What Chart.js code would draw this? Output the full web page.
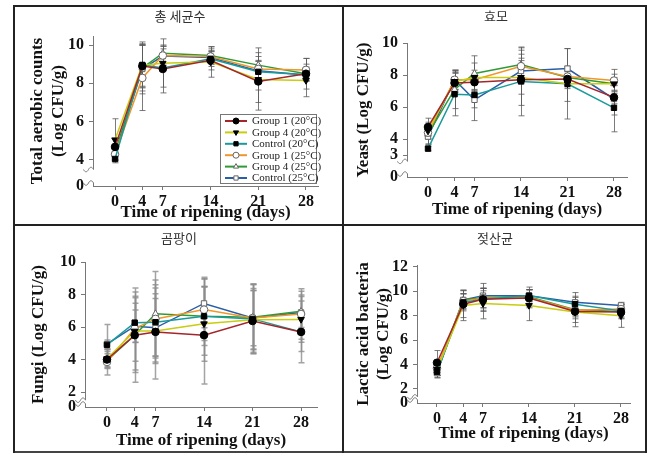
<!DOCTYPE html>
<html><head><meta charset="utf-8">
<script src="https://cdn.jsdelivr.net/npm/chart.js@4.4.1/dist/chart.umd.min.js"></script>
<style>
html,body{margin:0;padding:0;background:#fff;}
#wrap{position:relative;width:663px;height:454px;overflow:hidden;background:#fff;}
.ln{position:absolute;background:#222;}
canvas{position:absolute;}
.kt{position:absolute;font-family:"Noto Sans CJK KR";font-size:13px;color:#333;transform:translate(-50%,-50%);white-space:nowrap;}
</style></head><body>
<div id="wrap">
 <div class="ln" style="left:13px;top:5px;width:634px;height:2px"></div>
 <div class="ln" style="left:13px;top:451px;width:634px;height:2px;background:#444"></div>
 <div class="ln" style="left:13px;top:5px;width:2px;height:448px"></div>
 <div class="ln" style="left:645px;top:5px;width:2px;height:448px"></div>
 <div class="ln" style="left:342px;top:5px;width:2px;height:448px"></div>
 <div class="ln" style="left:13px;top:224px;width:634px;height:2px"></div>
 <canvas id="c1" width="327" height="217" style="left:15px;top:7px;width:327px;height:217px"></canvas>
 <canvas id="c2" width="301" height="217" style="left:344px;top:7px;width:301px;height:217px"></canvas>
 <canvas id="c3" width="327" height="225" style="left:15px;top:226px;width:327px;height:225px"></canvas>
 <canvas id="c4" width="301" height="225" style="left:344px;top:226px;width:301px;height:225px"></canvas>
 <div class="kt" id="t1" style="left:180px;top:15px"></div>
 <div class="kt" id="t2" style="left:496px;top:15px"></div>
 <div class="kt" id="t3" style="left:179px;top:237px"></div>
 <div class="kt" id="t4" style="left:495px;top:237px"></div>
</div>
<script>
// ---------- data ----------
const days = [0, 4, 7, 14, 21, 28];
const seriesNames = ['Group 1 (20°C)','Group 4 (20°C)','Control (20°C)','Group 1 (25°C)','Group 4 (25°C)','Control (25°C)'];
const panelTitles = ['총 세균수','효모','곰팡이','젖산균'];
const xTitle = 'Time of ripening (days)';
const yTitles = [['Total aerobic counts','(Log CFU/g)'], 'Yeast (Log CFU/g)', 'Fungi (Log CFU/g)', ['Lactic acid bacteria','(Log CFU/g)']];
const aerobicTicks = [0, 4, 6, 8, 10];
const yeastTicks = [0, 3, 4, 6, 8, 10];
const fungiTicks = [0, 2, 4, 6, 8, 10];
const labTicks = [0, 2, 4, 6, 8, 10, 12];

// rows: G1 20, G4 20, C 20, G1 25, G4 25, C 25
const aerobicMean = [
  [4.68, 8.90, 8.75, 9.20, 8.10, 8.50],
  [5.05, 8.95, 9.05, 9.12, 8.20, 8.15],
  [4.05, 8.96, 8.80, 9.28, 8.60, 8.45],
  [4.30, 8.28, 9.45, 9.40, 8.75, 8.70],
  [4.40, 8.80, 9.57, 9.45, 8.95, 8.50],
  [4.30, 8.75, 9.42, 9.35, 8.65, 8.43]
];
const aerobicSD = [
  [0.40, 1.10, 1.25, 0.50, 1.50, 0.80],
  [1.10, 1.10, 0.35, 0.80, 1.20, 0.85],
  [0.20, 1.20, 1.00, 0.40, 0.60, 0.20],
  [0.30, 1.70, 0.50, 0.40, 1.10, 0.60],
  [0.30, 1.20, 0.75, 0.45, 0.20, 0.35],
  [0.30, 1.30, 0.50, 0.30, 0.50, 0.30]
];
const yeastMean = [
  [4.75, 7.50, 7.55, 7.70, 7.75, 6.60],
  [4.50, 7.60, 7.85, 7.85, 7.45, 7.45],
  [3.40, 6.80, 6.75, 7.60, 7.45, 5.95],
  [4.40, 7.70, 7.70, 8.55, 7.90, 7.65],
  [4.30, 7.10, 8.10, 8.65, 7.85, 7.45],
  [4.15, 7.70, 6.45, 8.25, 8.40, 6.50]
];
const yeastSD = [
  [0.30, 0.60, 0.50, 1.60, 0.50, 0.40],
  [0.80, 0.60, 0.90, 1.05, 1.10, 0.40],
  [0.15, 1.35, 0.80, 2.15, 2.20, 1.50],
  [0.40, 0.60, 0.60, 1.00, 0.30, 0.70],
  [0.30, 1.20, 1.10, 1.05, 0.40, 0.60],
  [0.50, 0.60, 1.30, 0.80, 1.25, 1.00]
];
const fungiMean = [
  [4.00, 5.50, 5.70, 5.50, 6.37, 5.70],
  [4.05, 5.75, 5.75, 6.20, 6.45, 6.47],
  [4.90, 6.27, 6.30, 6.66, 6.50, 5.70],
  [3.85, 5.90, 6.50, 7.07, 6.55, 6.80],
  [3.95, 5.50, 6.82, 6.66, 6.60, 6.97],
  [4.95, 6.05, 5.95, 7.45, 6.55, 6.90]
];
const fungiSD = [
  [0.50, 2.90, 2.90, 3.00, 2.00, 1.90],
  [0.60, 2.40, 2.00, 2.30, 1.80, 1.40],
  [0.30, 1.20, 2.10, 1.80, 2.15, 1.20],
  [0.80, 2.00, 2.40, 1.90, 1.70, 1.55],
  [0.40, 2.30, 2.60, 2.40, 2.00, 1.00],
  [1.20, 1.00, 2.10, 1.50, 2.10, 1.30]
];
const labMean = [
  [4.15, 8.95, 9.35, 9.45, 8.35, 8.30],
  [3.60, 8.85, 9.00, 8.85, 8.30, 8.00],
  [3.40, 9.10, 9.35, 9.65, 8.95, 8.40],
  [3.70, 9.20, 9.45, 9.50, 8.45, 8.55],
  [3.50, 9.30, 9.50, 9.55, 8.50, 8.35],
  [3.30, 9.30, 9.65, 9.65, 9.10, 8.85]
];
const labSD = [
  [1.00, 1.10, 0.90, 0.70, 0.90, 0.50],
  [0.50, 1.25, 1.25, 1.25, 1.20, 0.95],
  [0.50, 0.70, 0.70, 0.50, 0.95, 0.50],
  [0.60, 0.60, 0.80, 0.85, 0.70, 0.40],
  [0.40, 0.50, 1.15, 0.60, 0.60, 0.60],
  [0.35, 0.80, 0.60, 0.50, 0.50, 0.25]
];

// ---------- styles ----------
const lineColors = ['#a3262b','#c9cc10','#1a9a9a','#f0962a','#2f9a35','#2a5ea6'];
const pointStyles = ['circle','triangle','rect','circle','triangle','rect'];
const pointRot = [0,180,0,0,0,0];
const filled = [true,true,true,false,false,false];
const serif = '"Liberation Serif", "Times New Roman", serif';
const axisColor = '#777';

Chart.defaults.color = '#111';

function makeErrorBars(sd, color, width){
  return {id:'errbars', beforeDatasetsDraw(chart){
    const {ctx, scales:{x, y}} = chart;
    ctx.save();
    ctx.strokeStyle = color; ctx.lineWidth = width;
    chart.data.datasets.forEach((ds, i) => {
      ds.data.forEach((p, j) => {
        const s = sd[i][j];
        const px = Math.round(x.getPixelForValue(p.x)) + 0.5;
        const t = y.getPixelForValue(p.y + s), b = y.getPixelForValue(p.y - s);
        ctx.beginPath();
        ctx.moveTo(px, t); ctx.lineTo(px, b);
        ctx.moveTo(px - 3, t); ctx.lineTo(px + 3, t);
        ctx.moveTo(px - 3, b); ctx.lineTo(px + 3, b);
        ctx.stroke();
      });
    });
    ctx.restore();
  }};
}
function tilde(ctx, x, y){
  ctx.moveTo(x, y);
  ctx.bezierCurveTo(x - 1.5, y - 3, x - 3.5, y - 3, x - 5, y);
  ctx.bezierCurveTo(x - 6.5, y + 3, x - 8.5, y + 3, x - 10, y);
}
function makeAxisBreak(breakAt){
  return {id:'axisbreak', afterDraw(chart){
    const {ctx, chartArea, scales:{y}} = chart;
    const x0 = chartArea.left + 0.5;
    const yb = y.getPixelForValue(breakAt);
    const yz = chartArea.bottom - 3;
    ctx.save();
    ctx.strokeStyle = axisColor; ctx.lineWidth = 1;
    ctx.beginPath();
    ctx.moveTo(x0, chartArea.top); ctx.lineTo(x0, yb);
    tilde(ctx, x0, yb);
    ctx.moveTo(x0, chartArea.bottom); ctx.lineTo(x0, yz);
    tilde(ctx, x0, yz);
    ctx.stroke();
    ctx.restore();
  }};
}
function makeBoxLegend(){
  return {id:'boxlegend', afterDraw(chart){
    const {ctx, chartArea} = chart;
    const w = 96, h = 69;
    const bx = Math.round(chartArea.right - 2 - w), by = Math.round(chartArea.bottom - 3 - h);
    ctx.save();
    ctx.fillStyle = '#fff'; ctx.fillRect(bx, by, w, h);
    ctx.strokeStyle = '#777'; ctx.lineWidth = 1; ctx.strokeRect(bx + 0.5, by + 0.5, w, h);
    ctx.font = '11px ' + serif; ctx.textBaseline = 'middle'; ctx.textAlign = 'left';
    chart.data.datasets.forEach((ds, i) => {
      const cy = by + 7 + i * 11.4;
      ctx.strokeStyle = ds.borderColor; ctx.lineWidth = 2;
      ctx.beginPath(); ctx.moveTo(bx + 5, cy); ctx.lineTo(bx + 27, cy); ctx.stroke();
      ctx.fillStyle = ds.pointBackgroundColor; ctx.strokeStyle = ds.pointBorderColor; ctx.lineWidth = 1;
      Chart.helpers.drawPoint(ctx, {pointStyle: ds.pointStyle, rotation: ds.pointRotation, radius: 3, borderWidth: 1}, bx + 16, cy);
      ctx.fillStyle = '#222';
      ctx.fillText(ds.label, bx + 32, cy + 0.5);
    });
    ctx.restore();
  }};
}

function buildPanel(cfg){
  const datasets = cfg.mean.map((row, i) => ({
    label: seriesNames[i],
    data: row.map((v, j) => ({x: days[j], y: v})),
    borderColor: lineColors[i],
    backgroundColor: lineColors[i],
    borderWidth: 1.5,
    tension: 0,
    pointStyle: pointStyles[i],
    pointRotation: pointRot[i],
    pointRadius: 3.8,
    pointBackgroundColor: filled[i] ? '#000' : '#fff',
    pointBorderColor: filled[i] ? '#000' : '#666',
    pointBorderWidth: 1
  }));
  const plugins = [makeErrorBars(cfg.sd, cfg.errColor, cfg.errWidth), makeAxisBreak(cfg.breakAt)];
  if (cfg.legend) plugins.push(makeBoxLegend());
  const zero = cfg.yMin;
  return new Chart(document.getElementById(cfg.id), {
    type: 'line',
    data: {datasets},
    plugins,
    options: {
      responsive: false, animation: false, devicePixelRatio: 1, events: [],
      layout: {padding: {left: 0, top: cfg.padTop, right: cfg.padRight, bottom: 0}},
      plugins: {legend: {display: false}, tooltip: {enabled: false}, title: {display: false}},
      scales: {
        x: {
          type: 'linear', min: cfg.xMin, max: cfg.xMax,
          border: {display: true, color: axisColor, width: 1},
          grid: {drawOnChartArea: false, drawTicks: true, tickLength: 4, color: axisColor},
          afterBuildTicks: s => { s.ticks = days.map(v => ({value: v})); },
          afterFit: s => { s.height = cfg.xH; },
          ticks: {font: {family: serif, weight: 'bold', size: 16}, color: '#111', padding: 2, autoSkip: false, maxRotation: 0, minRotation: 0},
          title: {display: true, text: xTitle, font: {family: serif, weight: 'bold', size: 17, lineHeight: 1.2}, color: '#111', padding: {top: 0, bottom: cfg.xTitlePad}}
        },
        y: {
          type: 'linear', min: cfg.yMin, max: cfg.yMax,
          border: {display: false},
          grid: {drawOnChartArea: false, drawTicks: true, tickLength: 4, color: axisColor,
                 tickColor: c => (c.tick && c.tick.value === zero) ? 'rgba(0,0,0,0)' : axisColor},
          afterBuildTicks: s => { s.ticks = cfg.ticks.map(v => ({value: v === 0 ? zero : v})); },
          afterFit: s => { s.width = cfg.yW; },
          ticks: {font: {family: serif, weight: 'bold', size: 16}, color: '#111', padding: 5,
                  callback: v => v === zero ? '0' : String(v)},
          title: {display: true, text: cfg.yTitle, font: {family: serif, weight: 'bold', size: 17, lineHeight: 1.2}, color: '#111', padding: {top: cfg.yTitlePad, bottom: 0}}
        }
      }
    }
  });
}

panelTitles.forEach((t, i) => { document.getElementById('t' + (i + 1)).textContent = t; });

buildPanel({id: 'c1', mean: aerobicMean, sd: aerobicSD, ticks: aerobicTicks, yTitle: yTitles[0],
  yMin: 2.64, yMax: 10.47, breakAt: 3.5, xMin: -3.23, xMax: 29.76,
  padTop: 29, padRight: 24, yW: 78, xH: 38, yTitlePad: 12.8, xTitlePad: 0.8,
  errColor: 'rgba(90,90,90,0.8)', errWidth: 1, legend: true});
buildPanel({id: 'c2', mean: yeastMean, sd: yeastSD, ticks: yeastTicks, yTitle: yTitles[1],
  yMin: 1.625, yMax: 10, breakAt: 2.6, xMin: -3.16, xMax: 29.96,
  padTop: 36, padRight: 18, yW: 63, xH: 47, yTitlePad: 9, xTitlePad: 4,
  errColor: 'rgba(90,90,90,0.8)', errWidth: 1});
buildPanel({id: 'c3', mean: fungiMean, sd: fungiSD, ticks: fungiTicks, yTitle: yTitles[2],
  yMin: 1.08, yMax: 10, breakAt: 1.5, xMin: -3.17, xMax: 30.3,
  padTop: 36, padRight: 25, yW: 70, xH: 44, yTitlePad: 13, xTitlePad: 0,
  errColor: 'rgba(140,140,140,0.8)', errWidth: 1.5});
buildPanel({id: 'c4', mean: labMean, sd: labSD, ticks: labTicks, yTitle: yTitles[3],
  yMin: 0.85, yMax: 12.16, breakAt: 1.35, xMin: -3.04, xMax: 29.37,
  padTop: 39, padRight: 15, yW: 73, xH: 48, yTitlePad: 9, xTitlePad: 7,
  errColor: 'rgba(90,90,90,0.8)', errWidth: 1});
</script>
</body></html>
